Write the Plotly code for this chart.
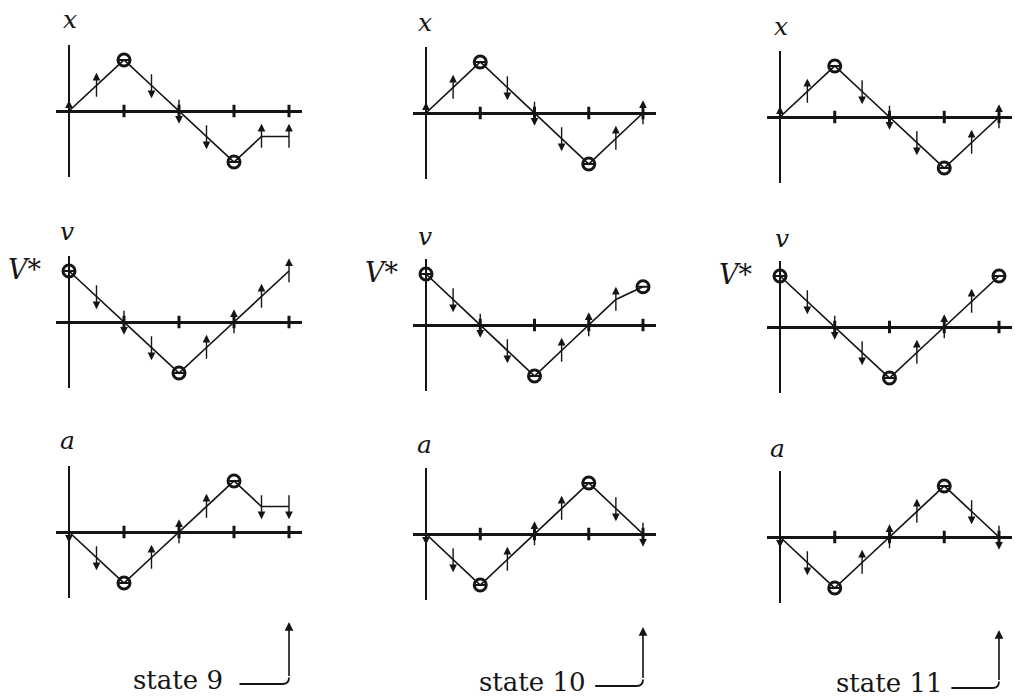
import plotly.graph_objects as go

W, H = 1015, 698

# ---------------- data ----------------
t = [0, 0.5, 1, 1.5, 2, 2.5, 3, 3.5, 4]
tick_t = [1, 2, 3, 4]
state_names = ["state 9", "state 10", "state 11"]
row_labels = ["x", "v", "a"]

x_state9 = [0, 1, 2, 1, 0, -1, -2, -1, -1]
x_state10 = [0, 1, 2, 1, 0, -1, -2, -1, 0]
x_state11 = [0, 1, 2, 1, 0, -1, -2, -1, 0]
v_state9 = [2, 1, 0, -1, -2, -1, 0, 1, 2]
v_state10 = [2, 1, 0, -1, -2, -1, 0, 1, 1.5]
v_state11 = [2, 1, 0, -1, -2, -1, 0, 1, 2]
a_state9 = [0, -1, -2, -1, 0, 1, 2, 1, 1]
a_state10 = [0, -1, -2, -1, 0, 1, 2, 1, 0]
a_state11 = [0, -1, -2, -1, 0, 1, 2, 1, 0]

x_dir_state9 = ["inc", "inc", "std", "dec", "dec", "dec", "std", "inc", "inc"]
x_dir_state10 = ["inc", "inc", "std", "dec", "dec", "dec", "std", "inc", "inc"]
x_dir_state11 = ["inc", "inc", "std", "dec", "dec", "dec", "std", "inc", "inc"]
v_dir_state9 = ["std", "dec", "dec", "dec", "std", "inc", "inc", "inc", "inc"]
v_dir_state10 = ["std", "dec", "dec", "dec", "std", "inc", "inc", "inc", "std"]
v_dir_state11 = ["std", "dec", "dec", "dec", "std", "inc", "inc", "inc", "std"]
a_dir_state9 = ["dec", "dec", "std", "inc", "inc", "inc", "std", "dec", "dec"]
a_dir_state10 = ["dec", "dec", "std", "inc", "inc", "inc", "std", "dec", "dec"]
a_dir_state11 = ["dec", "dec", "std", "inc", "inc", "inc", "std", "dec", "dec"]

values = [[x_state9, x_state10, x_state11],
          [v_state9, v_state10, v_state11],
          [a_state9, a_state10, a_state11]]
dirs = [[x_dir_state9, x_dir_state10, x_dir_state11],
        [v_dir_state9, v_dir_state10, v_dir_state11],
        [a_dir_state9, a_dir_state10, a_dir_state11]]

# ---------------- layout geometry (pixels of the page) ----------------
OFF = 0  # body margin removed by post_script below
col_ox = [69, 426, 780]
col_sx = [55, 54.25, 54.75]
panel_oy = [[111, 113, 117], [322, 325, 327], [532, 534, 537]]
sy = 25.5
XR = [-0.24, 4.24]
YR = [-2.6, 2.6]

label_pos = [[(70, 19), (425, 22), (781, 26)],
             [(67, 231), (425, 236), (782, 238)],
             [(67, 441), (424, 445), (777, 448)]]
vstar_pos = [(25, 269), (382, 272), (736, 274)]
state_text = [(225, 680), (587, 682), (944, 683)]
bracket = [(3.1, 684, 622), (3.12, 686, 627), (3.13, 688, 630)]

INK = "#151515"


def px(xp):
    return (xp - OFF) / W


def py(yp):
    return 1 - (yp - OFF) / H


fig = go.Figure()
layout = dict(width=W, height=H, margin=dict(l=0, r=0, t=0, b=0),
              paper_bgcolor="white", plot_bgcolor="rgba(0,0,0,0)",
              showlegend=False, hovermode=False)
annotations = []
shapes = []

k = 0
for r in range(3):
    for c in range(3):
        k += 1
        xa = "x" if k == 1 else f"x{k}"
        ya = "y" if k == 1 else f"y{k}"
        ox, sx, oy = col_ox[c], col_sx[c], panel_oy[r][c]
        xdom = [px(ox + XR[0] * sx), px(ox + XR[1] * sx)]
        ydom = [py(oy - YR[0] * sy), py(oy - YR[1] * sy)]
        axcommon = dict(showgrid=False, showticklabels=False, ticks="",
                        showline=False, zeroline=True, zerolinecolor=INK,
                        fixedrange=True)
        layout["xaxis" if k == 1 else f"xaxis{k}"] = dict(
            domain=xdom, range=XR, zerolinewidth=2.6, anchor=ya, **axcommon)
        layout["yaxis" if k == 1 else f"yaxis{k}"] = dict(
            domain=ydom, range=YR, zerolinewidth=3, anchor=xa, **axcommon)

        vals = values[r][c]
        dd = dirs[r][c]
        # tick marks on the time axis
        fig.add_trace(go.Scatter(x=tick_t, y=[0] * len(tick_t), mode="markers",
                                 xaxis=xa, yaxis=ya,
                                 marker=dict(symbol="line-ns", size=9, color=INK,
                                             line=dict(width=3, color=INK))))
        # behaviour curve
        fig.add_trace(go.Scatter(x=t, y=vals, mode="lines", xaxis=xa, yaxis=ya,
                                 line=dict(color=INK, width=1.7)))
        # steady points
        st = [i for i, d in enumerate(dd) if d == "std"]
        fig.add_trace(go.Scatter(x=[t[i] for i in st], y=[vals[i] for i in st],
                                 mode="markers", xaxis=xa, yaxis=ya, cliponaxis=False,
                                 marker=dict(symbol="circle-open", size=12, color=INK,
                                             line=dict(width=3, color=INK))))
        fig.add_trace(go.Scatter(x=[t[i] for i in st], y=[vals[i] for i in st],
                                 mode="markers", xaxis=xa, yaxis=ya, cliponaxis=False,
                                 marker=dict(symbol="line-ew", size=7, color=INK,
                                             line=dict(width=2, color=INK))))
        # direction arrows
        for i, d in enumerate(dd):
            if d == "std":
                continue
            s = 1 if d == "inc" else -1
            if i == 0:
                tail, head = vals[i], vals[i] + s * 0.42
            else:
                tail, head = vals[i] - s * 0.5, vals[i] + s * 0.5
            annotations.append(dict(x=t[i], y=head, ax=t[i], ay=tail,
                                    xref=xa, yref=ya, axref=xa, ayref=ya,
                                    text="", showarrow=True, arrowhead=2,
                                    arrowsize=1.1, arrowwidth=1.4,
                                    arrowcolor=INK, standoff=0, startstandoff=0))
        # variable label
        lx, ly = label_pos[r][c]
        annotations.append(dict(x=px(lx), y=py(ly), xref="paper", yref="paper",
                                text=f"<i>{row_labels[r]}</i>", showarrow=False,
                                font=dict(family="DejaVu Serif", size=25, color=INK),
                                xanchor="center", yanchor="middle"))
        if r == 1:
            vx, vy = vstar_pos[c]
            annotations.append(dict(x=px(vx), y=py(vy), xref="paper", yref="paper",
                                    text="<i>V</i>*", showarrow=False,
                                    font=dict(family="DejaVu Serif", size=27, color=INK),
                                    xanchor="center", yanchor="middle"))
        if r == 2:
            # state caption with bracket arrow pointing up at the final time point
            tx, ty = state_text[c]
            annotations.append(dict(x=px(tx), y=py(ty), xref="paper", yref="paper",
                                    text=state_names[c], showarrow=False,
                                    font=dict(family="DejaVu Serif", size=26, color=INK),
                                    xanchor="right", yanchor="middle"))
            t0b, yb, ytop = bracket[c]
            rr = 0.12
            rp = rr * sx
            path = (f"M {t0b},{py(yb)} L {t[-1] - rr},{py(yb)} "
                    f"Q {t[-1]},{py(yb)} {t[-1]},{py(yb - rp)}")
            shapes.append(dict(type="path", path=path, xref=xa, yref="paper",
                               line=dict(color=INK, width=1.8)))
            annotations.append(dict(x=t[-1], y=py(ytop), xref=xa, yref="paper",
                                    ax=0, ay=(yb - rp) - ytop, axref="pixel", ayref="pixel",
                                    text="", showarrow=True, arrowhead=2, arrowsize=1.1,
                                    arrowwidth=1.6, arrowcolor=INK,
                                    standoff=0, startstandoff=0))

layout["annotations"] = annotations
layout["shapes"] = shapes
fig.update_layout(**layout)
fig.write_html("out.html",
               config={"displayModeBar": False, "staticPlot": True},
               post_script="document.body.style.margin='0px';"
                           "document.body.style.overflow='hidden';")
